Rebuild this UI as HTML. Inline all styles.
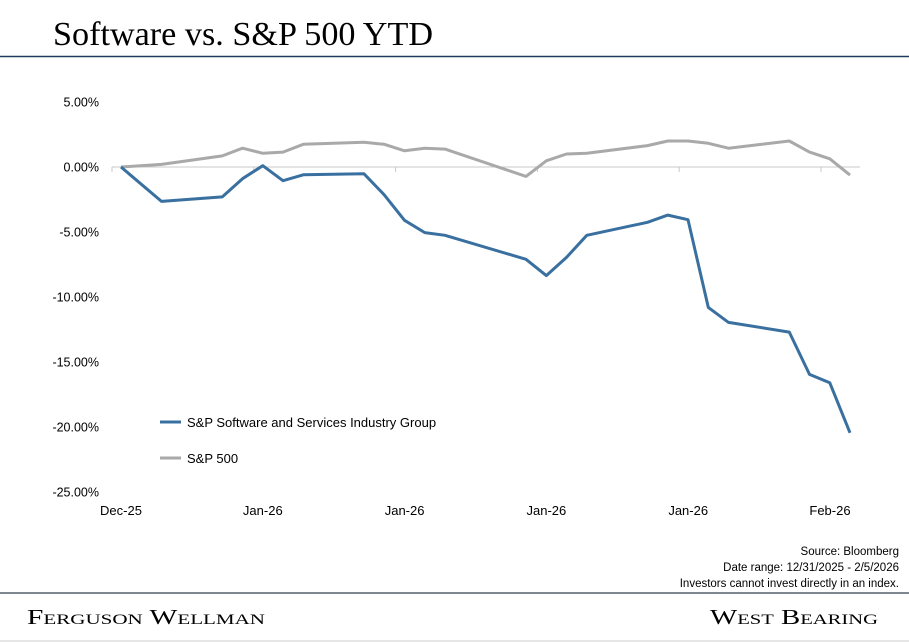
<!DOCTYPE html>
<html><head><meta charset="utf-8"><style>
html,body{margin:0;padding:0;background:#fff;}
svg{display:block;}
text{font-family:"Liberation Sans",sans-serif;}
</style></head><body>
<svg id="chart" width="909" height="642" viewBox="0 0 909 642">
<text x="53" y="45" font-family="Liberation Serif" style="font-family:'Liberation Serif',serif" font-size="34" textLength="380" lengthAdjust="spacingAndGlyphs" fill="#000">Software vs. S&amp;P 500 YTD</text>
<line x1="0" y1="56.5" x2="909" y2="56.5" stroke="#1f3a5a" stroke-width="1.5"/>
<g id="yaxis"></g>
<g id="xaxis"></g>
<g id="series"></g>
<g>
<g><line x1="160" y1="422" x2="181" y2="422" stroke="#3a70a0" stroke-width="3"/><text x="187" y="427" font-size="13" fill="#000">S&amp;P Software and Services Industry Group</text></g>
<g><line x1="160" y1="458" x2="181" y2="458" stroke="#a9a9a9" stroke-width="3"/><text x="187" y="463" font-size="13" fill="#000">S&amp;P 500</text></g>
</g>
<g font-size="11.5" fill="#000" text-anchor="end">
<text x="899" y="555">Source: Bloomberg</text>
<text x="899" y="571">Date range: 12/31/2025 - 2/5/2026</text>
<text x="899" y="587">Investors cannot invest directly in an index.</text>
</g>
<line x1="0" y1="593" x2="909" y2="593" stroke="#555e6a" stroke-width="1.5"/>
<text x="27" y="624" font-size="21" style="font-family:'Liberation Serif',serif;font-variant:small-caps" textLength="238" lengthAdjust="spacingAndGlyphs">Ferguson Wellman</text>
<text x="710" y="624" font-size="21" style="font-family:'Liberation Serif',serif;font-variant:small-caps" textLength="168" lengthAdjust="spacingAndGlyphs">West Bearing</text>
<line x1="0" y1="641" x2="909" y2="641" stroke="#ddd" stroke-width="1.5"/>
</svg>
<script>
const yTicks = [5, 0, -5, -10, -15, -20, -25];
const yTickLabels = ["5.00%", "0.00%", "-5.00%", "-10.00%", "-15.00%", "-20.00%", "-25.00%"];
const xTickLabels = ["Dec-25", "Jan-26", "Jan-26", "Jan-26", "Jan-26", "Feb-26"];
const dayIndex = [0, 2, 5, 6, 7, 8, 9, 12, 13, 14, 15, 16, 20, 21, 22, 23, 26, 27, 28, 29, 30, 33, 34, 35, 36];
const softwareValues = [0, -2.65, -2.3, -0.9, 0.1, -1.05, -0.6, -0.52, -2.15, -4.1, -5.05, -5.25, -7.1, -8.35, -6.95, -5.25, -4.25, -3.7, -4.05, -10.8, -11.95, -12.7, -15.95, -16.6, -20.45];
const sp500Values = [0, 0.2, 0.85, 1.45, 1.05, 1.15, 1.75, 1.9, 1.75, 1.25, 1.45, 1.38, -0.72, 0.48, 1.0, 1.05, 1.65, 2.0, 2.0, 1.82, 1.45, 2.0, 1.15, 0.63, -0.62];

const NS = "http://www.w3.org/2000/svg";
const yScale = v => 167 + (0 - v) * 13;
const xScale = i => 121 + i * 20.25;
function mk(tag, attrs, parent){const e=document.createElementNS(NS,tag);for(const k in attrs)e.setAttribute(k,attrs[k]);parent.appendChild(e);return e;}

const yg = document.getElementById('yaxis');
yTicks.forEach((v,i)=>{
  const t = mk('text',{x:99,y:yScale(v)+4.5,'font-size':12.5,'text-anchor':'end',fill:'#000'},yg);
  t.textContent = yTickLabels[i];
  
  
});
const xg = document.getElementById('xaxis');
const zl = mk('line',{x1:112,y1:yScale(0),x2:860,y2:yScale(0),stroke:'#c8c8c8','stroke-width':1},xg);


xTickLabels.forEach((lab,i)=>{
  const tx = 112 + i*141.8;
  const tk = mk('line',{x1:tx,y1:yScale(0),x2:tx,y2:yScale(0)+5,stroke:'#c8c8c8','stroke-width':1},xg);
  
  
  const t = mk('text',{x:tx+9,y:515,'font-size':13,'text-anchor':'middle',fill:'#000'},xg);
  t.textContent = lab;
  
  
});
const sg = document.getElementById('series');
function line(vals,color,name){
  const d = vals.map((v,i)=>(i?'L':'M')+xScale(dayIndex[i]).toFixed(1)+','+yScale(v).toFixed(1)).join(' ');
  const p = mk('path',{d:d,fill:'none',stroke:color,'stroke-width':3,'stroke-linejoin':'round'},sg);
  
  
}
line(sp500Values,'#a9a9a9','sp500-line');
line(softwareValues,'#3a70a0','software-line');
</script>
</body></html>
